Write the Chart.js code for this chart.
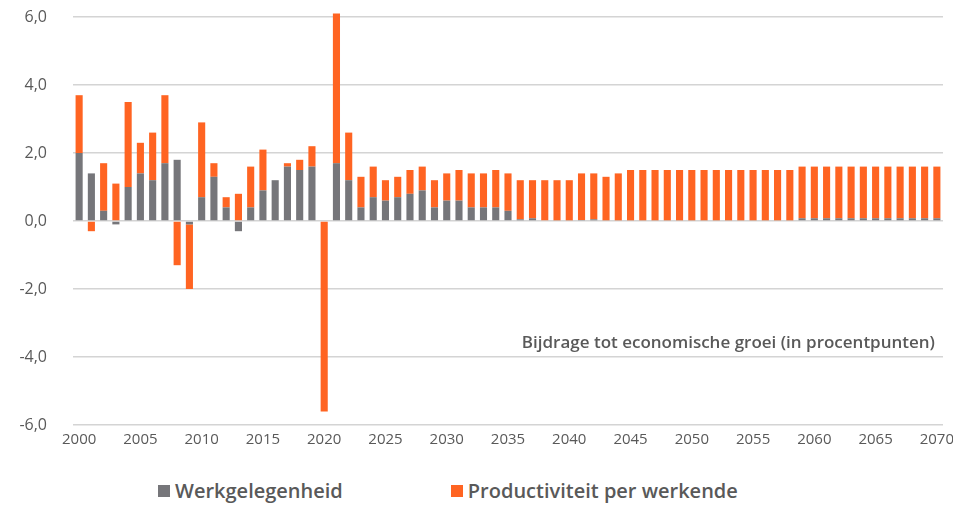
<!DOCTYPE html>
<html>
<head>
<meta charset="utf-8">
<script src="https://cdn.jsdelivr.net/npm/chart.js@4.4.0/dist/chart.umd.min.js"></script>
<style>
  body { margin: 0; background: #fff; font-family: 'Open Sans', sans-serif; }
  #wrap { position: relative; width: 953px; height: 465px; }
  #legend { display: flex; align-items: center; padding-left: 158px; margin-top: 12px; color: #595959; font-size: 20px; font-weight: 600; }
  #legend span.box { display: inline-block; width: 12px; height: 12px; margin-right: 5px; }
  #legend .item { display: flex; align-items: center; }
</style>
</head>
<body>
<div id="wrap"><canvas id="myChart"></canvas></div>
<div id="legend">
  <div class="item" style="margin-right: 108px"><span class="box" style="background: #76767a"></span>Werkgelegenheid</div>
  <div class="item"><span class="box" style="background: #ff6422"></span>Productiviteit per werkende</div>
</div>
<script>
// categories: 2000 - 2070
const years = [];
for (let y = 2000; y <= 2070; y++) years.push(String(y));

// Werkgelegenheid (grey)
const werk = [
  2.0, 1.4, 0.3, -0.1, 1.0, 1.4, 1.2, 1.7, 1.8, -0.1,
  0.7, 1.3, 0.4, -0.3, 0.4, 0.9, 1.2, 1.6, 1.5, 1.6,
  0.0, 1.7, 1.2, 0.4, 0.7, 0.6, 0.7, 0.8, 0.9, 0.4,
  0.6, 0.6, 0.4, 0.4, 0.4, 0.3, 0.05, 0.08, 0.0, 0.02,
  0.02, 0.03, 0.05, 0.02, 0.02, 0.02, 0.02, 0.02, 0.02, 0.02,
  0.02, 0.02, 0.02, 0.02, 0.02, 0.02, 0.02, 0.02, 0.02, 0.08,
  0.08, 0.08, 0.08, 0.08, 0.08, 0.08, 0.08, 0.08, 0.08, 0.08,
  0.08
];

// Productiviteit per werkende (orange)
const prod = [
  1.7, -0.3, 1.4, 1.1, 2.5, 0.9, 1.4, 2.0, -1.3, -1.9,
  2.2, 0.4, 0.3, 0.8, 1.2, 1.2, 0.0, 0.1, 0.3, 0.6,
  -5.6, 4.4, 1.4, 0.9, 0.9, 0.6, 0.6, 0.7, 0.7, 0.8,
  0.8, 0.9, 1.0, 1.0, 1.1, 1.1, 1.15, 1.12, 1.2, 1.18,
  1.18, 1.37, 1.35, 1.28, 1.38, 1.48, 1.48, 1.48, 1.48, 1.48,
  1.48, 1.48, 1.48, 1.48, 1.48, 1.48, 1.48, 1.48, 1.48, 1.52,
  1.52, 1.52, 1.52, 1.52, 1.52, 1.52, 1.52, 1.52, 1.52, 1.52,
  1.52
];

const yTicks = [-6, -4, -2, 0, 2, 4, 6];
const note = 'Bijdrage tot economische groei (in procentpunten)';

const textGrey = '#595959';
const yFont = { family: "'Open Sans', sans-serif", size: 16 };
const xFont = { family: "'Open Sans', sans-serif", size: 15 };

// label inside the plot area
const notePlugin = {
  id: 'note',
  afterDatasetsDraw(chart) {
    const { ctx, chartArea } = chart;
    const y = chart.scales.y.getPixelForValue(-3.6);
    ctx.save();
    ctx.font = "600 17px 'Open Sans', sans-serif";
    ctx.fillStyle = textGrey;
    ctx.textAlign = 'right';
    ctx.textBaseline = 'middle';
    ctx.fillText(note, chartArea.right - 8, y);
    ctx.restore();
  }
};

const ctx = document.getElementById('myChart').getContext('2d');
const myChart = new Chart(ctx, {
  type: 'bar',
  data: {
    labels: years,
    datasets: [
      {
        label: 'Werkgelegenheid',
        data: werk,
        backgroundColor: '#76767a',
        barPercentage: 0.58,
        categoryPercentage: 1,
        clip: false
      },
      {
        label: 'Productiviteit per werkende',
        data: prod,
        backgroundColor: '#ff6422',
        barPercentage: 0.58,
        categoryPercentage: 1,
        clip: false
      }
    ]
  },
  options: {
    responsive: true,
    maintainAspectRatio: false,
    animation: false,
    layout: {
      padding: { top: 17, right: 10, left: 0, bottom: 0 }
    },
    scales: {
      x: {
        stacked: true,
        grid: { display: false, drawTicks: false },
        border: { display: false },
        ticks: {
          autoSkip: false,
          maxRotation: 0,
          padding: 6,
          color: textGrey,
          font: xFont,
          callback: function (val, i) {
            const yr = years[i];
            return Number(yr) % 5 === 0 ? yr : '';
          }
        },
        afterFit: (scale) => {
          scale.height = 40;
          scale.paddingLeft = 0;
          scale.paddingRight = 0;
        }
      },
      y: {
        stacked: true,
        min: -6,
        max: 6,
        afterBuildTicks: (scale) => { scale.ticks = yTicks.map(v => ({ value: v })); },
        grid: { color: '#d4d4d4', lineWidth: 1.5, drawTicks: false },
        border: { display: false },
        ticks: {
          padding: 26,
          color: textGrey,
          font: yFont,
          callback: (v) => v.toFixed(1).replace('.', ',')
        },
        afterFit: (scale) => {
          scale.width = 73;
          scale.paddingTop = 0;
          scale.paddingBottom = 0;
        }
      }
    },
    plugins: {
      legend: { display: false },
      tooltip: { enabled: false }
    }
  },
  plugins: [notePlugin]
});
</script>
</body>
</html>
